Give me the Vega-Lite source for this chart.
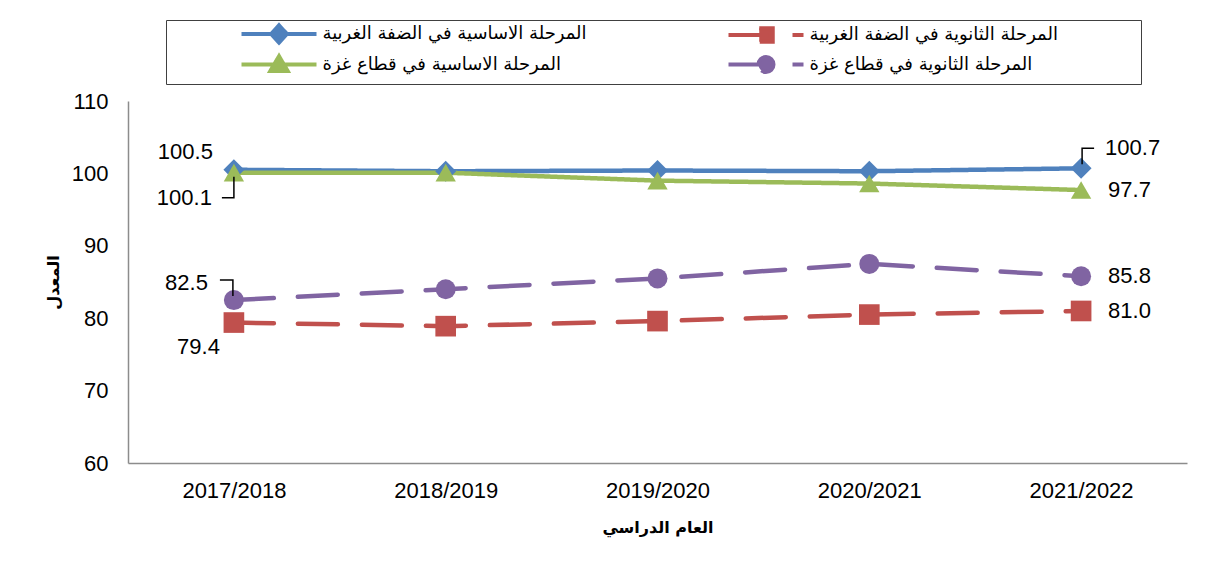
{
  "$schema": "https://vega.github.io/schema/vega-lite/v6.json",
  "autosize": {"type": "none"},
  "padding": {"left": 128, "top": 101, "right": 32, "bottom": 101},
  "width": 1059,
  "height": 362,
  "background": "white",
  "config": {
    "view": {"stroke": null},
    "font": "Liberation Sans, DejaVu Sans",
    "axis": {"labelFont": "Liberation Sans", "titleFont": "DejaVu Sans", "labelColor": "black", "titleColor": "black"}
  },
  "data": {
    "values": [
      {"year": "2017/2018", "series": "المرحلة الاساسية في الضفة الغربية", "value": 100.5},
      {"year": "2018/2019", "series": "المرحلة الاساسية في الضفة الغربية", "value": 100.3},
      {"year": "2019/2020", "series": "المرحلة الاساسية في الضفة الغربية", "value": 100.4},
      {"year": "2020/2021", "series": "المرحلة الاساسية في الضفة الغربية", "value": 100.3},
      {"year": "2021/2022", "series": "المرحلة الاساسية في الضفة الغربية", "value": 100.7},
      {"year": "2017/2018", "series": "المرحلة الثانوية في الضفة الغربية", "value": 79.4},
      {"year": "2018/2019", "series": "المرحلة الثانوية في الضفة الغربية", "value": 78.9},
      {"year": "2019/2020", "series": "المرحلة الثانوية في الضفة الغربية", "value": 79.6},
      {"year": "2020/2021", "series": "المرحلة الثانوية في الضفة الغربية", "value": 80.5},
      {"year": "2021/2022", "series": "المرحلة الثانوية في الضفة الغربية", "value": 81.0},
      {"year": "2017/2018", "series": "المرحلة الاساسية في قطاع غزة", "value": 100.1},
      {"year": "2018/2019", "series": "المرحلة الاساسية في قطاع غزة", "value": 100.1},
      {"year": "2019/2020", "series": "المرحلة الاساسية في قطاع غزة", "value": 99.0},
      {"year": "2020/2021", "series": "المرحلة الاساسية في قطاع غزة", "value": 98.6},
      {"year": "2021/2022", "series": "المرحلة الاساسية في قطاع غزة", "value": 97.7},
      {"year": "2017/2018", "series": "المرحلة الثانوية في قطاع غزة", "value": 82.5},
      {"year": "2018/2019", "series": "المرحلة الثانوية في قطاع غزة", "value": 84.0},
      {"year": "2019/2020", "series": "المرحلة الثانوية في قطاع غزة", "value": 85.5},
      {"year": "2020/2021", "series": "المرحلة الثانوية في قطاع غزة", "value": 87.5},
      {"year": "2021/2022", "series": "المرحلة الثانوية في قطاع غزة", "value": 85.8}
    ]
  },
  "encoding": {
    "x": {
      "field": "year", "type": "ordinal",
      "scale": {"type": "point", "padding": 0.5},
      "axis": {
        "title": "العام الدراسي", "labelAngle": 0, "ticks": false, "labelPadding": 17,
        "labelFontSize": 22, "domainColor": "#8c8c8c", "domainWidth": 1.5,
        "titleFontSize": 16, "titleFontWeight": "bold", "titlePadding": 18
      }
    },
    "y": {
      "field": "value", "type": "quantitative",
      "scale": {"domain": [60, 110], "nice": false, "zero": false},
      "axis": {
        "title": "المعدل", "values": [60, 70, 80, 90, 100, 110], "ticks": false, "grid": false,
        "labelPadding": 20, "labelFontSize": 22, "domainColor": "#8c8c8c", "domainWidth": 1.5,
        "titleFontSize": 16, "titleFontWeight": "bold", "titlePadding": 10
      }
    }
  },
  "layer": [
    {
      "mark": {"type": "line", "strokeWidth": 4.5, "strokeCap": "round"},
      "encoding": {
        "color": {
          "field": "series", "type": "nominal",
          "scale": {
            "domain": ["المرحلة الاساسية في الضفة الغربية", "المرحلة الثانوية في الضفة الغربية", "المرحلة الاساسية في قطاع غزة", "المرحلة الثانوية في قطاع غزة"],
            "range": ["#4F81BD", "#C0504D", "#9BBB59", "#8064A2"]
          },
          "legend": {
            "orient": "none", "legendX": 38, "legendY": -81, "direction": "horizontal", "columns": 2,
            "title": null, "strokeColor": "#404040", "padding": 4, "columnPadding": 70, "rowPadding": -3,
            "labelFont": "DejaVu Sans", "labelFontSize": 18, "labelColor": "black", "labelLimit": 0,
            "symbolSize": 225, "symbolStrokeWidth": 4, "symbolOffset": 99.5, "labelOffset": 34,
            "encode": {
              "symbols": {
                "update": {
                  "shape": {"signal": "datum.value == 'المرحلة الاساسية في الضفة الغربية' ? 'M-5,0H5M0,-1.15L1.05,0L0,1.15L-1.05,0Z' : datum.value == 'المرحلة الثانوية في الضفة الغربية' ? 'M-5,0H5M-0.9,-0.9H0.9V0.9H-0.9ZM48.3,0' : datum.value == 'المرحلة الاساسية في قطاع غزة' ? 'M-5,0H5M0,-1.1L1.15,0.85L-1.15,0.85Z' : 'M-5,0H5M-1,0A1,1,0,1,1,1,0A1,1,0,1,1,-1,0ZM48.3,0'"},
                  "fill": {"scale": "color", "field": "value"},
                  "stroke": {"scale": "color", "field": "value"},
                  "strokeWidth": {"value": 4},
                  "opacity": {"value": 1}
                }
              }
            }
          }
        },
        "strokeDash": {
          "field": "series", "type": "nominal",
          "scale": {
            "domain": ["المرحلة الاساسية في الضفة الغربية", "المرحلة الثانوية في الضفة الغربية", "المرحلة الاساسية في قطاع غزة", "المرحلة الثانوية في قطاع غزة"],
            "range": [[1, 0], [40, 24], [1, 0], [40, 24]]
          }
        }
      }
    },
    {
      "mark": {"type": "point", "filled": true, "opacity": 1},
      "encoding": {
        "fill": {
          "field": "series", "type": "nominal",
          "scale": {
            "domain": ["المرحلة الثانوية في قطاع غزة", "المرحلة الاساسية في قطاع غزة", "المرحلة الثانوية في الضفة الغربية", "المرحلة الاساسية في الضفة الغربية"],
            "range": ["#8064A2", "#9BBB59", "#C0504D", "#4F81BD"]
          },
          "legend": null
        },
        "shape": {
          "field": "series", "type": "nominal",
          "scale": {
            "domain": ["المرحلة الثانوية في قطاع غزة", "المرحلة الاساسية في قطاع غزة", "المرحلة الثانوية في الضفة الغربية", "المرحلة الاساسية في الضفة الغربية"],
            "range": ["circle", "triangle-up", "square", "diamond"]
          },
          "legend": null
        },
        "size": {
          "field": "series", "type": "nominal",
          "scale": {
            "domain": ["المرحلة الثانوية في قطاع غزة", "المرحلة الاساسية في قطاع غزة", "المرحلة الثانوية في الضفة الغربية", "المرحلة الاساسية في الضفة الغربية"],
            "range": [400, 440, 400, 361]
          },
          "legend": null
        }
      }
    },
    {
      "transform": [{"filter": "datum.year == '2017/2018' && datum.series == 'المرحلة الاساسية في الضفة الغربية'"}],
      "mark": {"type": "text", "align": "right", "baseline": "middle", "dx": -21, "dy": -18, "fontSize": 22, "font": "Liberation Sans", "color": "black"},
      "encoding": {"text": {"field": "value", "type": "quantitative", "format": ".1f"}}
    },
    {
      "transform": [{"filter": "datum.year == '2017/2018' && datum.series == 'المرحلة الاساسية في قطاع غزة'"}],
      "mark": {"type": "text", "align": "right", "baseline": "middle", "dx": -22, "dy": 25, "fontSize": 22, "font": "Liberation Sans", "color": "black"},
      "encoding": {"text": {"field": "value", "type": "quantitative", "format": ".1f"}}
    },
    {
      "transform": [{"filter": "datum.year == '2017/2018' && datum.series == 'المرحلة الثانوية في قطاع غزة'"}],
      "mark": {"type": "text", "align": "right", "baseline": "middle", "dx": -26, "dy": -17, "fontSize": 22, "font": "Liberation Sans", "color": "black"},
      "encoding": {"text": {"field": "value", "type": "quantitative", "format": ".1f"}}
    },
    {
      "transform": [{"filter": "datum.year == '2017/2018' && datum.series == 'المرحلة الثانوية في الضفة الغربية'"}],
      "mark": {"type": "text", "align": "right", "baseline": "middle", "dx": -14, "dy": 24, "fontSize": 22, "font": "Liberation Sans", "color": "black"},
      "encoding": {"text": {"field": "value", "type": "quantitative", "format": ".1f"}}
    },
    {
      "transform": [{"filter": "datum.year == '2021/2022' && datum.series == 'المرحلة الاساسية في الضفة الغربية'"}],
      "mark": {"type": "text", "align": "left", "baseline": "middle", "dx": 24, "dy": -20, "fontSize": 22, "font": "Liberation Sans", "color": "black"},
      "encoding": {"text": {"field": "value", "type": "quantitative", "format": ".1f"}}
    },
    {
      "transform": [{"filter": "datum.year == '2021/2022' && datum.series != 'المرحلة الاساسية في الضفة الغربية'"}],
      "mark": {"type": "text", "align": "left", "baseline": "middle", "dx": 27, "dy": 0, "fontSize": 22, "font": "Liberation Sans", "color": "black"},
      "encoding": {"text": {"field": "value", "type": "quantitative", "format": ".1f"}}
    },
    {
      "transform": [{"filter": "datum.year == '2017/2018' && datum.series == 'المرحلة الاساسية في قطاع غزة'"}],
      "mark": {"type": "point", "shape": "M0,4V25H-12", "size": 4, "filled": false, "color": "black", "strokeWidth": 1.5, "opacity": 1},
      "encoding": {}
    },
    {
      "transform": [{"filter": "datum.year == '2017/2018' && datum.series == 'المرحلة الثانوية في قطاع غزة'"}],
      "mark": {"type": "point", "shape": "M-1,-4V-20H-14", "size": 4, "filled": false, "color": "black", "strokeWidth": 1.5, "opacity": 1},
      "encoding": {}
    },
    {
      "transform": [{"filter": "datum.year == '2021/2022' && datum.series == 'المرحلة الاساسية في الضفة الغربية'"}],
      "mark": {"type": "point", "shape": "M1,-4V-20H13", "size": 4, "filled": false, "color": "black", "strokeWidth": 1.5, "opacity": 1},
      "encoding": {}
    }
  ]
}
